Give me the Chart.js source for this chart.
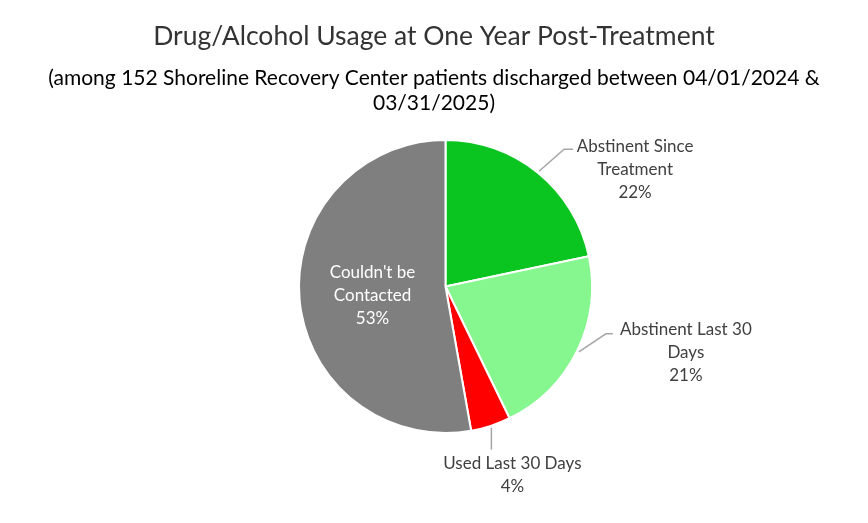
<!DOCTYPE html>
<html>
<head>
<meta charset="utf-8">
<script src="https://cdn.jsdelivr.net/npm/chart.js@4"></script>
<style>
  html, body { margin: 0; padding: 0; background: #fff; }
  #wrap { width: 868px; height: 523px; position: relative; }
</style>
</head>
<body>
<div id="wrap"><canvas id="pieChart"></canvas></div>
<script>
// share of the 152 patients, in percent
const categories = ["Abstinent Since Treatment", "Abstinent Last 30 Days", "Used Last 30 Days", "Couldn't be Contacted"];
const labelLines = [["Abstinent Since", "Treatment"], ["Abstinent Last 30", "Days"], ["Used Last 30 Days"], ["Couldn't be", "Contacted"]];
const sharePct = [21.7, 21.1, 4.4, 52.8];
const sliceColors = ["#0AC41F", "#86F78E", "#FF0000", "#7F7F7F"];

const titleText = "Drug/Alcohol Usage at One Year Post-Treatment";
const subtitleLines = ["(among 152 Shoreline Recovery Center patients discharged between 04/01/2024 &", "03/31/2025)"];

const FONT = "Lato, 'Open Sans', sans-serif";

// where each label sits relative to its slice edge, and its leader line
const labelPlace = [
    { dx: 96, dy: -25, leader: [[25, -22], [34, -22]], inside: false },
    { dx: 107, dy: -22, leader: [[27, -18], [34, -18]], inside: false },
    { dx: 21, dy: 36, leader: [[0, 22]], inside: false },
    { dx: 0, dy: 3, inside: true }
];

const textPlugin = {
    id: "textPlugin",
    afterDraw(chart) {
        const ctx = chart.ctx;
        ctx.save();
        ctx.textAlign = "center";
        ctx.textBaseline = "middle";

        ctx.fillStyle = "#333";
        ctx.font = "26.5px " + FONT;
        ctx.fillText(titleText, 434, 36);
        ctx.fillStyle = "#000";
        ctx.font = "21px " + FONT;
        subtitleLines.forEach((t, i) => ctx.fillText(t, 434, 78 + i * 25));

        const total = sharePct.reduce((a, b) => a + b, 0);
        const arcs = chart.getDatasetMeta(0).data;
        ctx.font = "17px " + FONT;
        arcs.forEach((arc, i) => {
            const p = arc.getProps(["x", "y", "startAngle", "endAngle", "outerRadius"], true);
            const mid = (p.startAngle + p.endAngle) / 2;
            const pct = Math.round(sharePct[i] / total * 100) + "%";
            const lines = labelLines[i].concat([pct]);
            const place = labelPlace[i];
            if (place.inside) {
                const cx = p.x + Math.cos(mid) * p.outerRadius * 0.5 + place.dx;
                const cy = p.y + Math.sin(mid) * p.outerRadius * 0.5 + place.dy;
                ctx.fillStyle = "#fff";
                lines.forEach((t, k) => ctx.fillText(t, cx, cy + (k - 1) * 23));
                return;
            }
            const ex = p.x + Math.cos(mid) * (p.outerRadius + 2);
            const ey = p.y + Math.sin(mid) * (p.outerRadius + 2);
            ctx.strokeStyle = "#A6A6A6";
            ctx.lineWidth = 1.5;
            ctx.beginPath();
            ctx.moveTo(ex, ey);
            place.leader.forEach(([lx, ly]) => ctx.lineTo(ex + lx, ey + ly));
            ctx.stroke();
            ctx.fillStyle = "#404040";
            lines.forEach((t, k) => ctx.fillText(t, ex + place.dx, ey + place.dy + k * 23));
        });
        ctx.restore();
    }
};

new Chart(document.getElementById("pieChart").getContext("2d"), {
    type: "pie",
    data: {
        labels: categories,
        datasets: [{
            data: sharePct,
            backgroundColor: sliceColors,
            borderColor: "#fff",
            borderWidth: 2,
            hoverOffset: 0
        }]
    },
    options: {
        responsive: true,
        maintainAspectRatio: false,
        animation: false,
        layout: { padding: { top: 139, bottom: 89, left: 298, right: 275 } },
        plugins: {
            legend: { display: false },
            title: { display: false },
            tooltip: { enabled: false }
        }
    },
    plugins: [textPlugin]
});
</script>
</body>
</html>
